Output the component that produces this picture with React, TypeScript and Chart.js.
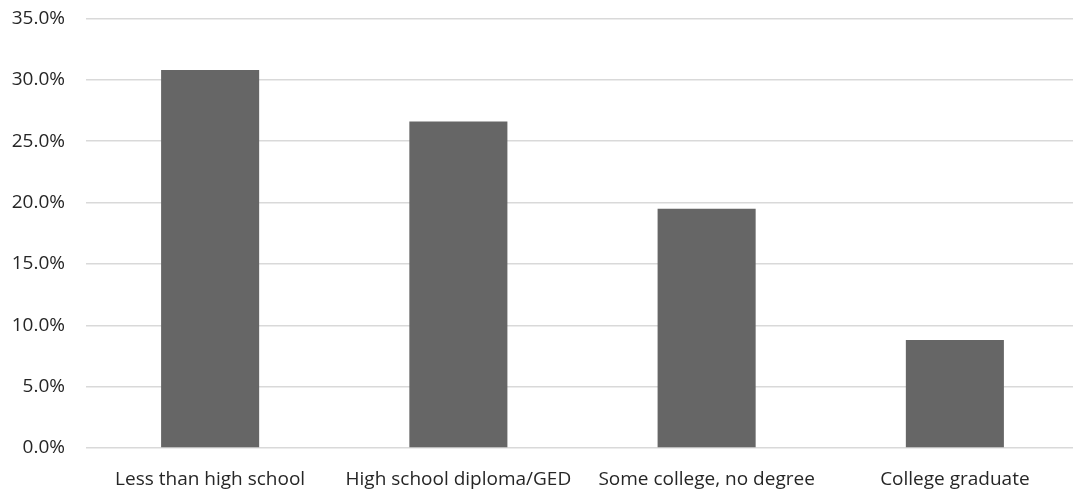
import React, { useEffect, useRef } from "react";
import { Chart, registerables } from "chart.js";

Chart.register(...registerables);

const categories = [
  "Less than high school",
  "High school diploma/GED",
  "Some college, no degree",
  "College graduate",
];
const values = [30.8, 26.6, 19.5, 8.8];
const yMax = 35;
const yStep = 5;

export default function App() {
  const ref = useRef<HTMLCanvasElement | null>(null);
  useEffect(() => {
    if (!ref.current) return;
    const chart = new Chart(ref.current, {
      type: "bar",
      data: {
        labels: categories,
        datasets: [
          {
            data: values,
            backgroundColor: "#666666",
            borderWidth: 0,
            categoryPercentage: 1,
            barPercentage: 0.395,
          },
        ],
      },
      options: {
        animation: false,
        responsive: true,
        maintainAspectRatio: false,
        layout: { padding: 0 },
        plugins: { legend: { display: false }, tooltip: { enabled: false } },
        scales: {
          x: {
            grid: { display: false },
            border: { display: false },
            ticks: {
              color: "#262626",
              font: { family: "Open Sans", size: 19 },
              padding: 12,
              maxRotation: 0,
            },
            afterFit: (s: any) => {
              s.height = 45;
            },
          },
          y: {
            min: 0,
            max: yMax,
            border: { display: false },
            grid: { color: "#d9d9d9", lineWidth: 1.5, drawTicks: false },
            ticks: {
              stepSize: yStep,
              color: "#262626",
              font: { family: "Open Sans", size: 19 },
              padding: 21,
              callback: (v: any) => Number(v).toFixed(1) + "%",
            },
            afterFit: (s: any) => {
              s.width = 86;
            },
          },
        },
      },
    });
    return () => chart.destroy();
  }, []);
  return (
    <div style={{ position: "fixed", left: 0, top: -14, width: 1079, height: 507, background: "#fff" }}>
      <canvas ref={ref} />
    </div>
  );
}
